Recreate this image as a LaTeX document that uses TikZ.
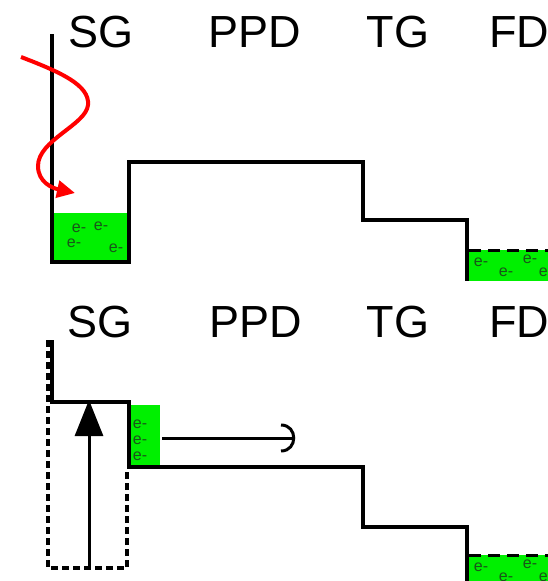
\documentclass[tikz,border=0pt]{standalone}
\usepackage{fontspec}
\setmainfont{Liberation Sans}
\usetikzlibrary{arrows.meta}
\definecolor{charge}{RGB}{0,240,0}
\definecolor{etext}{RGB}{25,85,25}
\definecolor{photonred}{RGB}{255,0,0}

\begin{document}
\begin{tikzpicture}[x=1pt,y=-1pt,
  band/.style={line width=4pt, line join=miter},
  gatelabel/.style={font=\fontsize{45}{45}\selectfont, inner sep=0pt, anchor=base},
  elec/.style={font=\fontsize{16}{16}\selectfont, inner sep=0pt, text=etext},
  fdlevel/.style={line width=3pt, dash pattern=on 12pt off 7pt},
  wellbox/.style={line width=3.5pt, dash pattern=on 7pt off 4pt},
  photon/.style={photonred, line width=4pt, -{Triangle[length=18pt,width=17pt]}},
  thinarrow/.style={line width=3pt}
]
\useasboundingbox (0,0) rectangle (548,581);
\clip (0,0) rectangle (548,581);

% ---------- upper panel: integration ----------
\fill[charge] (54,213) rectangle (127,260);
\fill[charge] (467,250) rectangle (548,281);

\draw[band] (52,34) -- (52,262) -- (129,262) -- (129,162) -- (363,162)
            -- (363,220) -- (467,220) -- (467,281);
\draw[fdlevel] (469,250) -- (548,250);

\node[gatelabel] (sg1)  at (101,47) {SG};
\node[gatelabel] (ppd1) at (255,47) {PPD};
\node[gatelabel] (tg1)  at (398,47) {TG};
\node[gatelabel] (fd1)  at (519,47) {FD};

\node[elec] (e11) at (79,228) {e-};
\node[elec] (e12) at (101,226) {e-};
\node[elec] (e13) at (74,243) {e-};
\node[elec] (e14) at (116,248) {e-};

\node[elec] (f11) at (481,262) {e-};
\node[elec] (f12) at (506,272) {e-};
\node[elec] (f13) at (530,259) {e-};
\node[elec] (f14) at (546,272) {e-};

% incoming light
\coordinate (lightin) at (21,57);
\coordinate (lighthit) at (75,193);
\draw[photon] (lightin) .. controls (60,72) and (90,85) .. (88,105)
   .. controls (86,125) and (38,140) .. (38,166)
   .. controls (38,182) and (52,188) .. (lighthit);

% ---------- lower panel: transfer ----------
\fill[charge] (131,405) rectangle (160,465);
\fill[charge] (467,555) rectangle (548,581);

\draw[wellbox] (48,340) -- (48,568) -- (127,568) -- (127,470);
\draw[band] (52,340) -- (52,402) -- (129,402) -- (129,467) -- (363,467)
            -- (363,527) -- (467,527) -- (467,581);
\draw[fdlevel] (469,555) -- (548,555);

\node[gatelabel] (sg2)  at (100,337) {SG};
\node[gatelabel] (ppd2) at (256,337) {PPD};
\node[gatelabel] (tg2)  at (398,337) {TG};
\node[gatelabel] (fd2)  at (519,337) {FD};

\node[elec] (e21) at (140,424) {e-};
\node[elec] (e22) at (140,440) {e-};
\node[elec] (e23) at (140,456) {e-};

\node[elec] (f21) at (481,567) {e-};
\node[elec] (f22) at (506,577) {e-};
\node[elec] (f23) at (530,564) {e-};
\node[elec] (f24) at (546,577) {e-};

% potential raised under the storage gate
\coordinate (liftbase) at (89,568);
\coordinate (lifttop) at (89,400);
\draw[thinarrow, -{Triangle[length=36pt,width=28pt]}] (liftbase) -- (lifttop);

% charge pushed towards the PPD
\coordinate (pushstart) at (162,438);
\coordinate (pushend) at (294,438);
\coordinate (hooktop) at (281,425);
\coordinate (hookbot) at (281,451);
\draw[thinarrow] (pushstart) -- (pushend);
\draw[thinarrow] (hooktop) .. controls (298,425) and (298,451) .. (hookbot);
\end{tikzpicture}
\end{document}
